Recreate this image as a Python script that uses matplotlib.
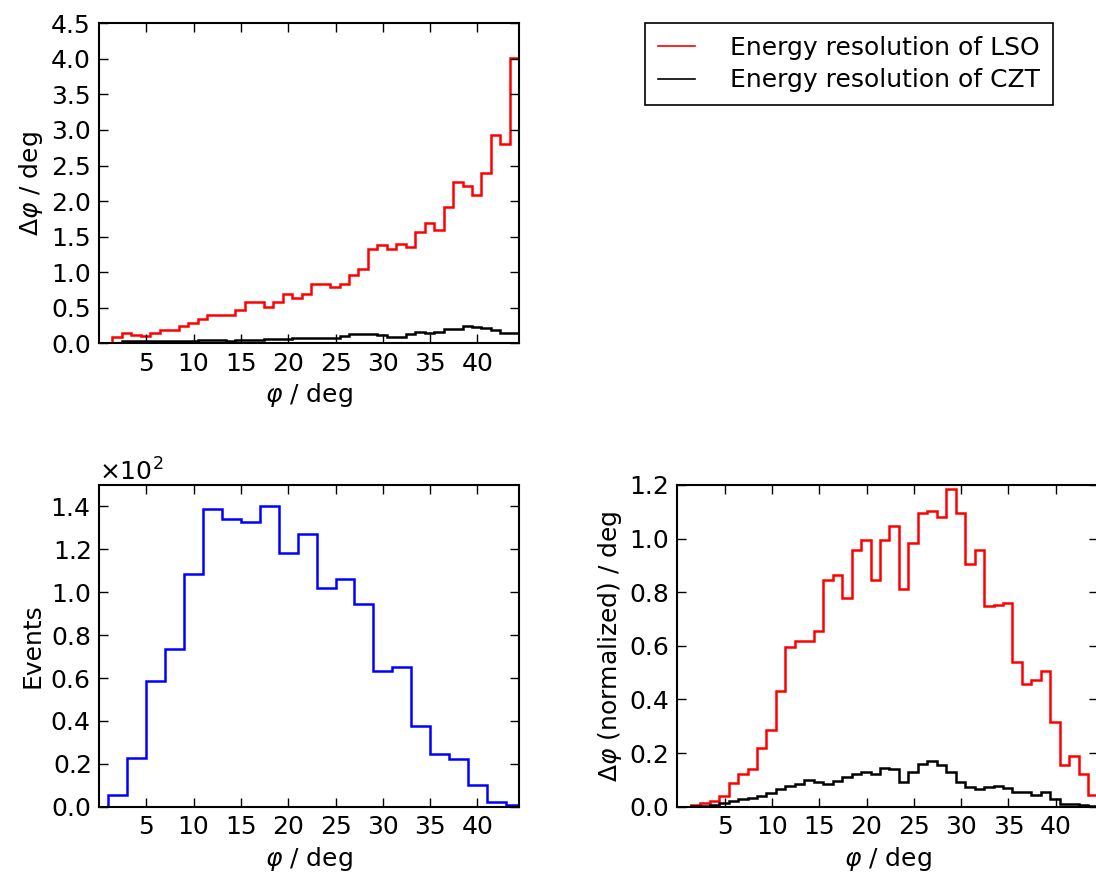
import numpy as np
import matplotlib
matplotlib.use("Agg")
import matplotlib.pyplot as plt
from matplotlib.ticker import ScalarFormatter, FormatStrFormatter
from matplotlib.lines import Line2D

# ---------------- data ----------------
# 1-degree bins (left edges start at 0.42 deg)
phi_edges_fine = 0.42 + np.arange(45)          # 45 edges -> 44 bins
phi_max = 44.42

# Top panel: Delta phi vs phi
lso_dphi = [0.0, 0.09, 0.14, 0.12, 0.10, 0.14, 0.18, 0.18, 0.24, 0.28,
            0.34, 0.40, 0.40, 0.40, 0.47, 0.585, 0.585, 0.505, 0.585, 0.69,
            0.64, 0.70, 0.83, 0.83, 0.79, 0.84, 0.96, 1.05, 1.33, 1.38,
            1.33, 1.40, 1.35, 1.56, 1.69, 1.60, 1.91, 2.27, 2.21, 2.08,
            2.39, 2.93, 2.80, 4.01]
czt_dphi = [0.0, 0.01, 0.03, 0.03, 0.03, 0.03, 0.03, 0.03, 0.03, 0.03,
            0.05, 0.05, 0.05, 0.03, 0.04, 0.04, 0.04, 0.06, 0.06, 0.06,
            0.08, 0.08, 0.08, 0.08, 0.08, 0.10, 0.13, 0.13, 0.13, 0.12,
            0.09, 0.09, 0.13, 0.16, 0.14, 0.16, 0.20, 0.20, 0.25, 0.23,
            0.21, 0.19, 0.14, 0.14]

# Bottom-left: events in 2-degree bins
event_edges = np.arange(1, 47, 2)               # 1,3,...,45
events = [5.5, 22.6, 58.8, 73.6, 108.3, 139.0, 134.1, 132.8, 140.0, 118.5,
          127.0, 101.8, 106.3, 94.6, 63.1, 65.0, 37.7, 24.8, 22.1, 10.0,
          2.3, 0.6]

# Bottom-right: normalized Delta phi
lso_norm = [0.0, 0.005, 0.013, 0.021, 0.040, 0.0875, 0.1225, 0.141, 0.219, 0.2875,
            0.431, 0.5975, 0.619, 0.619, 0.654, 0.844, 0.8625, 0.7775, 0.956, 0.996,
            0.846, 0.996, 1.046, 0.8125, 0.984, 1.094, 1.104, 1.081, 1.185, 1.094,
            0.906, 0.956, 0.750, 0.754, 0.759, 0.540, 0.459, 0.471, 0.506, 0.315,
            0.154, 0.190, 0.121, 0.044]
czt_norm = [0.0, 0.002, 0.004, 0.006, 0.0125, 0.021, 0.0275, 0.031, 0.040, 0.050,
            0.065, 0.0775, 0.084, 0.100, 0.091, 0.085, 0.0975, 0.1125, 0.1225, 0.129,
            0.1225, 0.145, 0.140, 0.094, 0.131, 0.160, 0.171, 0.156, 0.129, 0.094,
            0.0725, 0.066, 0.0725, 0.0775, 0.069, 0.056, 0.053, 0.044, 0.054, 0.0275,
            0.010, 0.010, 0.005, 0.002]

x_ticks = [5, 10, 15, 20, 25, 30, 35, 40]
legend_labels = ["Energy resolution of LSO", "Energy resolution of CZT"]

# ---------------- style ----------------
FS = 18
plt.rcParams.update({
    "font.family": ["DejaVu Sans"],
    "font.size": FS,
    "mathtext.fontset": "dejavusans",
    "axes.linewidth": 1.5,
    "xtick.direction": "in",
    "ytick.direction": "in",
    "xtick.top": True,
    "ytick.right": True,
    "xtick.major.size": 6.5,
    "ytick.major.size": 6.5,
    "xtick.major.width": 1.0,
    "ytick.major.width": 1.0,
    "xtick.major.pad": 6,
    "ytick.major.pad": 6,
    "xtick.labelsize": FS,
    "ytick.labelsize": FS,
})

W, H = 1096, 875
fig = plt.figure(figsize=(W / 100, H / 100), dpi=100, facecolor="white")

def box(l, t, r, b):
    return [l / W, 1 - b / H, (r - l) / W, (b - t) / H]

ax1 = fig.add_axes(box(99, 23.3, 519.3, 343.3))
ax2 = fig.add_axes(box(99, 485, 519.3, 806.7))
ax3 = fig.add_axes(box(677.3, 485, 1097.6, 806.7))

xlabel = r"$\varphi$ / deg"
LW = 1.8

# top-left
ax1.stairs(lso_dphi, phi_edges_fine, color="red", lw=LW, baseline=0)
ax1.stairs(czt_dphi, phi_edges_fine, color="black", lw=LW, baseline=0)
ax1.set_xlim(0, phi_max)
ax1.set_ylim(0, 4.5)
ax1.set_yticks(np.arange(0, 4.51, 0.5))
ax1.yaxis.set_major_formatter(FormatStrFormatter("%.1f"))
ax1.set_xticks(x_ticks)
ax1.set_xlabel(xlabel)
ax1.set_ylabel(r"$\Delta\varphi$ / deg")

# bottom-left
ax2.stairs(events, event_edges, color="blue", lw=LW, baseline=0)
ax2.set_xlim(0, phi_max)
ax2.set_ylim(0, 150)
ax2.set_yticks(np.arange(0, 141, 20))
fmt = ScalarFormatter(useMathText=True)
fmt.set_powerlimits((0, 0))
ax2.yaxis.set_major_formatter(fmt)
ax2.yaxis.get_offset_text().set_fontsize(FS)
ax2.set_xticks(x_ticks)
ax2.set_xlabel(xlabel)
ax2.set_ylabel("Events")

# bottom-right
ax3.stairs(lso_norm, phi_edges_fine, color="red", lw=LW, baseline=0)
ax3.stairs(czt_norm, phi_edges_fine, color="black", lw=LW, baseline=0)
ax3.set_xlim(0, phi_max)
ax3.set_ylim(0, 1.2)
ax3.set_yticks(np.arange(0, 1.21, 0.2))
ax3.yaxis.set_major_formatter(FormatStrFormatter("%.1f"))
ax3.set_xticks(x_ticks)
ax3.set_xlabel(xlabel)
ax3.set_ylabel(r"$\Delta\varphi$ (normalized) / deg")

# legend in the empty top-right area
handles = [Line2D([], [], color="red", lw=1.2), Line2D([], [], color="black", lw=1.2)]
fig.legend(handles, legend_labels, loc="upper left",
           bbox_to_anchor=(645 / W, 1 - 23 / H), fontsize=FS,
           frameon=True, fancybox=False, edgecolor="black", framealpha=1,
           handlelength=1.5, handletextpad=1.4, borderpad=0.5,
           labelspacing=0.35, borderaxespad=0)
leg = fig.legends[0]
leg.get_frame().set_linewidth(1.2)

fig.savefig("out.png", dpi=100, facecolor="white")
